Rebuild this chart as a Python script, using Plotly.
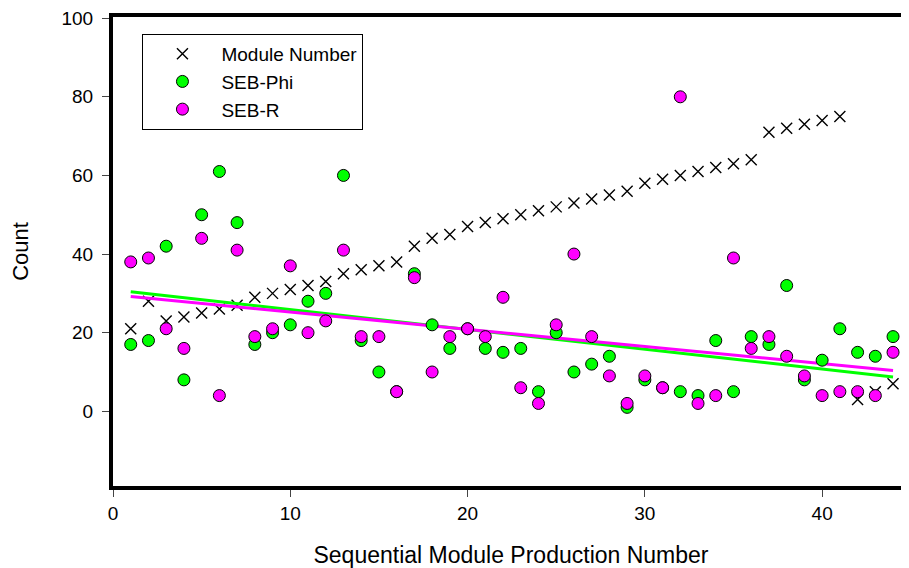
import numpy as np
import plotly.graph_objects as go

x_seq = list(range(1, 45))
module_number = [21, 28, 23, 24, 25, 26, 27, 29, 30, 31, 32, 33, 35, 36, 37, 38, 42, 44, 45, 47,
                 48, 49, 50, 51, 52, 53, 54, 55, 56, 58, 59, 60, 61, 62, 63, 64, 71, 72, 73, 74,
                 75, 3, 5, 7]
seb_phi = [17, 18, 42, 8, 50, 61, 48, 17, 20, 22, 28, 30, 60, 18, 10, 5, 35, 22, 16, 21,
           16, 15, 16, 5, 20, 10, 12, 14, 1, 8, 6, 5, 4, 18, 5, 19, 17, 32, 8, 13,
           21, 15, 14, 19]
seb_r = [38, 39, 21, 16, 44, 4, 41, 19, 21, 37, 20, 23, 41, 19, 19, 5, 34, 10, 19, 21,
         19, 29, 6, 2, 22, 40, 19, 9, 2, 9, 6, 80, 2, 4, 39, 16, 19, 14, 9, 4,
         5, 5, 4, 15]
x_ticks = [0, 10, 20, 30, 40]
y_ticks = [0, 20, 40, 60, 80, 100]

FONT = "Arial, Liberation Sans, sans-serif"
GREEN = "#00ff00"
MAGENTA = "#ff00ff"

xa = np.array(x_seq, dtype=float)
fit_phi = np.polyfit(xa, np.array(seb_phi, dtype=float), 1)
fit_r = np.polyfit(xa, np.array(seb_r, dtype=float), 1)
x_fit = [x_seq[0], x_seq[-1]]

fig = go.Figure()
fig.add_trace(go.Scatter(
    x=x_seq, y=module_number, mode="markers", name="Module Number",
    marker=dict(symbol="x-thin", size=11, line=dict(color="black", width=1.4), color="black"),
))
fig.add_trace(go.Scatter(
    x=x_fit, y=list(np.polyval(fit_phi, x_fit)), mode="lines", showlegend=False,
    line=dict(color=GREEN, width=3), hoverinfo="skip",
))
fig.add_trace(go.Scatter(
    x=x_fit, y=list(np.polyval(fit_r, x_fit)), mode="lines", showlegend=False,
    line=dict(color=MAGENTA, width=3), hoverinfo="skip",
))
fig.add_trace(go.Scatter(
    x=x_seq, y=seb_phi, mode="markers", name="SEB-Phi",
    marker=dict(symbol="circle", size=12, color=GREEN, line=dict(color="black", width=1)),
))
fig.add_trace(go.Scatter(
    x=x_seq, y=seb_r, mode="markers", name="SEB-R",
    marker=dict(symbol="circle", size=12, color=MAGENTA, line=dict(color="black", width=1)),
))

fig.update_layout(
    width=901, height=560,
    margin=dict(l=105, r=0, t=9, b=82, autoexpand=False),
    paper_bgcolor="white", plot_bgcolor="white",
    font=dict(family=FONT, color="black"),
    showlegend=True,
    legend=dict(
        x=0.037, y=0.964, xanchor="left", yanchor="top",
        bgcolor="white", bordercolor="black", borderwidth=1,
        font=dict(size=19, family=FONT), itemwidth=68,
        tracegroupgap=0,
    ),
    xaxis=dict(
        range=[0, 44.9], tickvals=x_ticks, ticks="outside", ticklen=7, tickwidth=1,
        showline=True, linecolor="black", linewidth=4, mirror=True,
        showgrid=False, zeroline=False, tickfont=dict(size=19), automargin=False,
        ticklabeloverflow="allow",
        title=dict(text="Sequential Module Production Number", font=dict(size=23), standoff=25),
    ),
    yaxis=dict(
        range=[-19, 100.3], tickvals=y_ticks, ticks="outside", ticklen=7, tickwidth=1,
        showline=True, linecolor="black", linewidth=4, ticklabelstandoff=5,
        showgrid=False, zeroline=False, tickfont=dict(size=19), automargin=False,
        ticklabeloverflow="allow",
        title=dict(text="Count", font=dict(size=22), standoff=36),
    ),
)

fig.write_html("out.html")
